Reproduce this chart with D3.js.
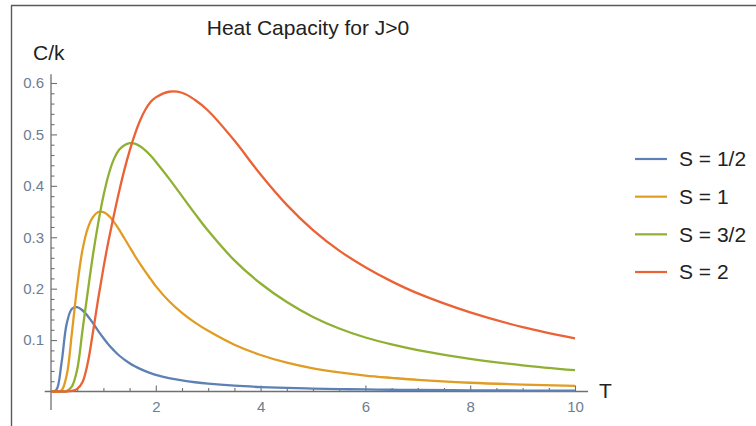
<!DOCTYPE html>
<html>
<head>
<meta charset="utf-8">
<script src="https://cdn.jsdelivr.net/npm/d3@7"></script>
<style>
body { margin: 0; background: #fff; }
svg { display: block; font-family: "Liberation Sans", Arial, sans-serif; }
</style>
</head>
<body>
<svg id="chart" width="756" height="426"></svg>
<script>
// values
var tValues = [0, 0.1, 0.2, 0.3, 0.4, 0.5, 0.6, 0.7, 0.8, 0.9, 1.0, 1.1, 1.2, 1.3, 1.4, 1.5, 1.6, 1.7, 1.8, 1.9, 2.0,
  2.25, 2.5, 2.75, 3.0, 3.5, 4, 4.5, 5, 5.5, 6, 6.5, 7, 8, 9, 10];
var cHalf = [0, 0.003, 0.055, 0.132, 0.161, 0.164, 0.158, 0.147, 0.133, 0.118, 0.104, 0.091, 0.080, 0.070, 0.062, 0.055, 0.049, 0.044, 0.0395, 0.0357, 0.0325,
  0.0262, 0.0216, 0.018, 0.0152, 0.0113, 0.0087, 0.0069, 0.0056, 0.0047, 0.004, 0.0034, 0.003, 0.0023, 0.0018, 0.0015];
var cOne = [0, 0, 0.002, 0.032, 0.115, 0.205, 0.275, 0.317, 0.339, 0.349, 0.349, 0.342, 0.330, 0.315, 0.298, 0.281, 0.264, 0.248, 0.233, 0.219, 0.205,
  0.176, 0.153, 0.134, 0.118, 0.091, 0.071, 0.056, 0.045, 0.037, 0.031, 0.0265, 0.0225, 0.017, 0.0135, 0.011];
var cThreeHalf = [0, 0, 0, 0.001, 0.01, 0.043, 0.118, 0.193, 0.265, 0.327, 0.380, 0.422, 0.452, 0.470, 0.479, 0.483, 0.482, 0.477, 0.469, 0.459, 0.447,
  0.4145, 0.380, 0.3455, 0.3125, 0.255, 0.210, 0.174, 0.145, 0.1225, 0.105, 0.0915, 0.0805, 0.0635, 0.051, 0.0415];
var cTwo = [0, 0, 0, 0, 0.001, 0.005, 0.018, 0.055, 0.115, 0.180, 0.240, 0.294, 0.343, 0.389, 0.431, 0.468, 0.500, 0.527, 0.548, 0.563, 0.572,
  0.583, 0.581, 0.567, 0.546, 0.488, 0.422, 0.363, 0.314, 0.274, 0.2417, 0.2142, 0.1908, 0.1539, 0.1253, 0.1035];

var seriesNames = ["S = 1/2", "S = 1", "S = 3/2", "S = 2"];
var seriesValues = [cHalf, cOne, cThreeHalf, cTwo];
var seriesColors = ["#5e81b5", "#e19c24", "#8fb032", "#eb6235"];

var xMajor = [2, 4, 6, 8, 10];
var xMinor = [0.5, 1, 1.5, 2.5, 3, 3.5, 4.5, 5, 5.5, 6.5, 7, 7.5, 8.5, 9, 9.5];
var yMajor = [0.1, 0.2, 0.3, 0.4, 0.5, 0.6];
var yMinor = [0.02, 0.04, 0.06, 0.08, 0.12, 0.14, 0.16, 0.18, 0.22, 0.24, 0.26, 0.28, 0.32, 0.34, 0.36, 0.38, 0.42, 0.44, 0.46, 0.48, 0.52, 0.54, 0.56, 0.58];

var svg = d3.select("#chart");

var x = d3.scaleLinear().domain([0, 10]).range([51, 575]);
var y = d3.scaleLinear().domain([0, 0.6]).range([391.5, 83]);

var axisColor = "#707070";
var labelColor = "#6d7d92";

// frame
svg.append("line").attr("x1", 11).attr("x2", 756).attr("y1", 5.5).attr("y2", 5.5)
  .attr("stroke", "#5a5a5a").attr("stroke-width", 1.6);
svg.append("line").attr("x1", 11.5).attr("x2", 11.5).attr("y1", 5.5).attr("y2", 426)
  .attr("stroke", "#5a5a5a").attr("stroke-width", 1.4);

// axes lines
svg.append("line")
  .attr("x1", x(-0.12)).attr("x2", x(10.25))
  .attr("y1", y(0)).attr("y2", y(0))
  .attr("stroke", axisColor).attr("stroke-width", 1.3);
svg.append("line")
  .attr("x1", x(0)).attr("x2", x(0))
  .attr("y1", y(0.617)).attr("y2", y(-0.036))
  .attr("stroke", axisColor).attr("stroke-width", 1.3);

function styleAxis(g) {
  g.select(".domain").remove();
  g.selectAll(".tick line").attr("stroke", axisColor).attr("stroke-width", 1.1);
  g.selectAll(".tick text").attr("fill", labelColor).attr("font-size", 15)
    .attr("font-family", "Liberation Sans, Arial, sans-serif");
}

svg.append("g")
  .attr("transform", `translate(0,${y(0)})`)
  .call(d3.axisBottom(x).tickValues(xMajor).tickSize(-6).tickPadding(10).tickFormat(d3.format("d")))
  .call(styleAxis);
svg.append("g")
  .attr("transform", `translate(0,${y(0)})`)
  .call(d3.axisBottom(x).tickValues(xMinor).tickSize(-3.5).tickFormat(""))
  .call(styleAxis);

svg.append("g")
  .attr("transform", `translate(${x(0)},0)`)
  .call(d3.axisLeft(y).tickValues(yMajor).tickSize(-6).tickPadding(7).tickFormat(d3.format(".1f")))
  .call(styleAxis);
svg.append("g")
  .attr("transform", `translate(${x(0)},0)`)
  .call(d3.axisLeft(y).tickValues(yMinor).tickSize(-3.5).tickFormat(""))
  .call(styleAxis);

// curves
var line = d3.line()
  .x((d, i) => x(tValues[i]))
  .y(d => y(d))
  .curve(d3.curveCatmullRom.alpha(0.5));

svg.append("g")
  .selectAll("path")
  .data(seriesValues)
  .join("path")
  .attr("fill", "none")
  .attr("stroke", (d, i) => seriesColors[i])
  .attr("stroke-width", 2.3)
  .attr("stroke-linejoin", "round")
  .attr("d", d => line(d));

// titles
svg.append("text")
  .attr("x", 308).attr("y", 35)
  .attr("text-anchor", "middle")
  .attr("font-size", 21)
  .attr("fill", "#222")
  .text("Heat Capacity for J>0");

svg.append("text")
  .attr("x", 33).attr("y", 60)
  .attr("font-size", 21)
  .attr("fill", "#222")
  .text("C/k");

svg.append("text")
  .attr("x", 599).attr("y", 398)
  .attr("font-size", 21)
  .attr("fill", "#222")
  .text("T");

// legend
var legendY = d3.scalePoint().domain(seriesNames).range([159, 272]);
var legend = svg.append("g")
  .selectAll("g")
  .data(seriesNames)
  .join("g")
  .attr("transform", d => `translate(0,${legendY(d)})`);

legend.append("line")
  .attr("x1", 635).attr("x2", 667)
  .attr("stroke", (d, i) => seriesColors[i])
  .attr("stroke-width", 2.2);

legend.append("text")
  .attr("x", 679)
  .attr("dy", "0.35em")
  .attr("font-size", 21)
  .attr("fill", "#222")
  .text(d => d);
</script>
</body>
</html>
